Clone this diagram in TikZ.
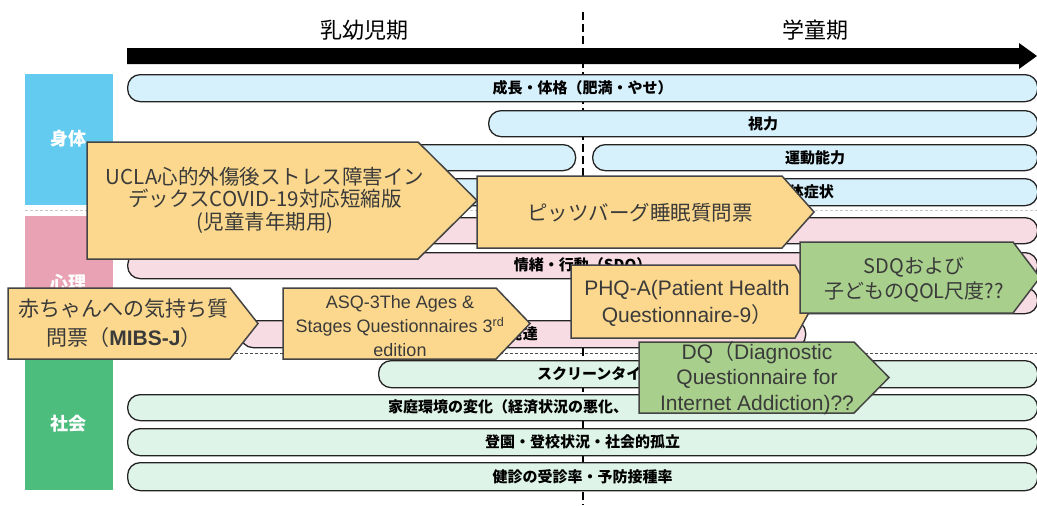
\documentclass[tikz,border=0pt]{standalone}
\usepackage{fontspec}
\setmainfont{Noto Sans CJK JP}
\newfontfamily\arialf{Liberation Sans}
\newfontfamily\jpf{Noto Sans CJK JP}
\definecolor{catBlue}{RGB}{100,203,240}
\definecolor{catPink}{RGB}{232,162,179}
\definecolor{catGreen}{RGB}{76,189,125}
\definecolor{barBlue}{RGB}{214,241,251}
\definecolor{barPink}{RGB}{247,220,228}
\definecolor{barGreen}{RGB}{222,244,232}
\definecolor{boxYellow}{RGB}{251,216,141}
\definecolor{boxGreen}{RGB}{168,208,140}
\definecolor{boxLine}{RGB}{68,68,68}
\definecolor{boxText}{RGB}{58,58,58}
\definecolor{barLine}{RGB}{35,35,35}
\begin{document}
\begin{tikzpicture}[x=1pt,y=-1pt,
  cat/.style={fill=#1, draw=none},
  catlabel/.style={text=white, font=\bfseries\fontsize{18}{20}\selectfont},
  bar/.style={draw=barLine, line width=1.3pt, rounded corners=12.5pt, anchor=north west, inner sep=0pt,
    font=\bfseries\fontsize{15}{17}\selectfont, text=black},
  bartext/.style={font=\bfseries\fontsize{15}{17}\selectfont, text=black, inner sep=0pt},
  pbox/.style={draw=boxLine, line width=1.5pt, line join=miter},
  ptext/.style={text=boxText, align=center, inner sep=0pt},
  head/.style={font=\fontsize{22}{24}\selectfont, text=black}
]
\useasboundingbox (0,0) rectangle (1037,506);

% category blocks
\fill[cat=catBlue] (25,74) rectangle (113,205);
\fill[cat=catPink] (25,216) rectangle (113,348);
\fill[cat=catGreen] (25,357) rectangle (113,490);
\node[catlabel] (shintai) at (68,139) {身体};
\node[catlabel] (shinri) at (68,283) {心理};
\node[catlabel] (shakai) at (68,424) {社会};

% separators
\draw[gray!45, line width=1.2pt, dash pattern=on 3pt off 2pt] (25,210.5) -- (1037,210.5);
\draw[black!70, line width=0.7pt, dash pattern=on 3pt off 2pt] (25,353) -- (1037,353);
\draw[black, line width=2pt, dash pattern=on 8pt off 4pt] (583,12) -- (583,505);

% time arrow
\fill[black] (127,48) -- (1019,48) -- (1019,43) -- (1037,56) -- (1019,69) -- (1019,64) -- (127,64) -- cycle;
\node[head] (nyuyoji) at (364,30) {乳幼児期};
\node[head] (gakudo) at (815,30) {学童期};

% 身体 bars
\node[bar, fill=barBlue, minimum width=910pt, minimum height=27pt] (seicho) at (127,74) {成長・体格（肥満・やせ）};
\node[bar, fill=barBlue, minimum width=549pt, minimum height=26pt] (shiryoku) at (488,110) {視力};
\node[bar, fill=barBlue, minimum width=448pt, minimum height=26pt] (undoL) at (127,144) {};
\node[bar, fill=barBlue, minimum width=445pt, minimum height=26pt] (undoR) at (592,144) {運動能力};
\node[bar, fill=barBlue, minimum width=910pt, minimum height=27pt] (shojo) at (127,178) {};
\node[bartext, anchor=east] (shojoT) at (834,191.5) {身体症状};

% 心理 bars
\node[bar, fill=barPink, minimum width=910pt, minimum height=26pt] (pink1) at (127,217) {};
\node[bar, fill=barPink, minimum width=910pt, minimum height=26pt] (jocho) at (127,252) {情緒・行動（SDQ）};
\node[bar, fill=barPink, minimum width=445pt, minimum height=26pt] (pink3) at (592,287) {};
\node[bar, fill=barPink, minimum width=565pt, minimum height=27pt] (hattatsu) at (240,320) {};
\node[bartext, anchor=east] (hattatsuT) at (538,333.5) {発達};

% 社会 bars
\node[bar, fill=barGreen, minimum width=659pt, minimum height=27pt] (screen) at (378,360) {};
\node[bartext, anchor=west] (screenT) at (537,373.5) {スクリーンタイム};
\node[bar, fill=barGreen, minimum width=910pt, minimum height=26pt] (katei) at (127,394) {};
\node[bartext, anchor=west] (kateiT) at (388,407) {家庭環境の変化（経済状況の悪化、};
\node[bar, fill=barGreen, minimum width=910pt, minimum height=27pt] (toen) at (127,428) {登園・登校状況・社会的孤立};
\node[bar, fill=barGreen, minimum width=910pt, minimum height=28pt] (kenshin) at (127,462) {健診の受診率・予防接種率};

% questionnaire boxes
\filldraw[pbox, fill=boxYellow] (87,142) -- (418,142) -- (477,200.5) -- (418,259) -- (87,259) -- cycle;
\node[ptext, font=\fontsize{20.5}{22.5}\selectfont] (ucla) at (265,200) {UCLA心的外傷後ストレス障害イン\\デックスCOVID-19対応短縮版\\(児童青年期用)};

\filldraw[pbox, fill=boxYellow] (477,176) -- (782,176) -- (814,212) -- (782,248) -- (477,248) -- cycle;
\node[ptext, font=\fontsize{20.5}{22.5}\selectfont] (psqi) at (640,213) {ピッツバーグ睡眠質問票};

\filldraw[pbox, fill=boxYellow] (8,288) -- (230,288) -- (258,323.5) -- (230,359) -- (8,359) -- cycle;
\node[ptext, font=\fontsize{21}{29}\selectfont] (mibs) at (124,323) {赤ちゃんへの気持ち質\\問票（{\bfseries\arialf MIBS-J}）};

\filldraw[pbox, fill=boxYellow] (283,288) -- (496,288) -- (530,323.5) -- (496,359) -- (283,359) -- cycle;
\node[ptext, font=\arialf\fontsize{18}{24}\selectfont] (asq) at (400,326) {ASQ-3The Ages \&\\Stages Questionnaires 3\textsuperscript{rd}\\edition};

\filldraw[pbox, fill=boxYellow] (571,265) -- (795,265) -- (815,301.5) -- (795,338) -- (571,338) -- cycle;
\node[ptext, font=\arialf\fontsize{21}{27}\selectfont] (phq) at (687,303) {PHQ-A(Patient Health\\Questionnaire-9{\jpf ）}};

\filldraw[pbox, fill=boxGreen] (800,242) -- (1013,242) -- (1040,277.5) -- (1013,313) -- (800,313) -- cycle;
\node[ptext, font=\fontsize{20}{25}\selectfont] (sdq) at (914,280) {SDQおよび\\子どものQOL尺度??};

\filldraw[pbox, fill=boxGreen] (639,342) -- (854,342) -- (889,377.5) -- (854,413) -- (639,413) -- cycle;
\node[ptext, font=\arialf\fontsize{21}{25.5}\selectfont] (dq) at (757,378) {DQ{\jpf （}Diagnostic\\Questionnaire for\\Internet Addiction)??};
\end{tikzpicture}
\end{document}
